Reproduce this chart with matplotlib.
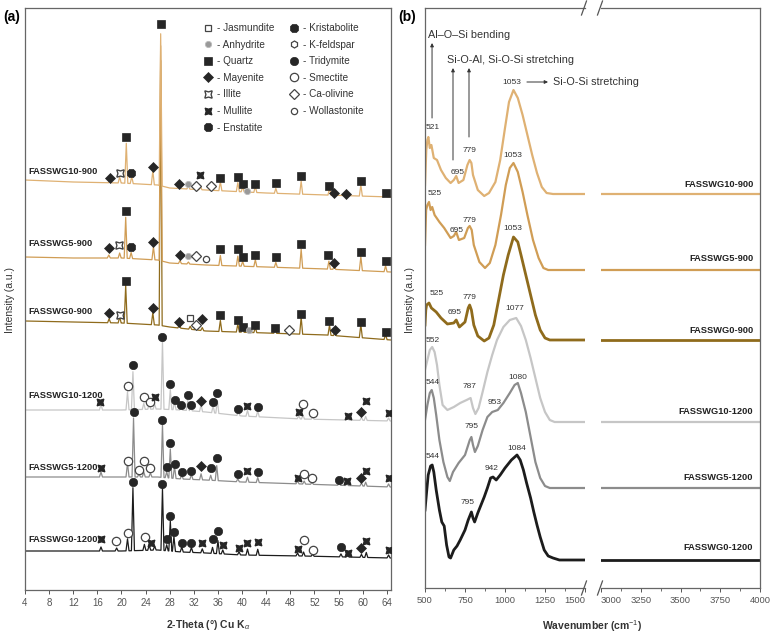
import numpy as np
import matplotlib.pyplot as plt
from matplotlib.lines import Line2D

plt.rcParams['font.family'] = ['Liberation Sans', 'DejaVu Sans']
plt.rcParams['mathtext.fontset'] = 'custom'
plt.rcParams['mathtext.rm'] = 'Liberation Sans'
plt.rcParams['mathtext.it'] = 'Liberation Sans:italic'
plt.rcParams['mathtext.bf'] = 'Liberation Sans:bold'

W, H = 774, 637

# ---------------- XRD data (a) ----------------
# background points (2theta, a.u.) and peaks (2theta, height above background)
bg_x = [4, 12, 20, 26, 28, 34, 44, 54, 64.7]
g10_900_bg = [410, 408, 407, 405, 402, 400, 397, 395, 393]
g5_900_bg = [333, 332, 332, 330, 327, 325, 323, 321, 318]
g0_900_bg = [269, 268, 267, 265, 263, 259, 257, 255, 250]

bg_x_1200 = [4, 15, 20, 26, 30, 34, 40, 50, 64.7]
g10_1200_bg = [180, 180, 180, 181, 180, 178, 174, 171, 169]
g5_1200_bg = [113, 113, 113, 113, 111, 110, 108, 106, 103]
g0_1200_bg = [39, 39, 39, 40, 38, 37, 35, 34, 32]

g10_900_pk_x = [18.1, 19.7, 20.8, 21.7, 25.2, 26.5, 29.5, 31.1, 33.1, 36.4, 39.3, 40.1, 40.8,
                42.2, 45.6, 49.8, 54.5, 55.3, 57.2, 59.7, 63.8]
g10_900_pk_h = [4, 6, 40, 7, 14, 152, 3, 3, 3, 9, 9, 5, 3, 6, 5, 13, 7, 3, 3, 11, 5]

g5_900_pk_x = [17.9, 19.7, 20.7, 21.6, 25.3, 26.5, 29.7, 31.1, 36.4, 39.3, 40.1, 42.2, 45.6,
               49.8, 54.4, 55.3, 59.7, 63.8]
g5_900_pk_h = [3, 5, 41, 6, 13, 215, 3, 2, 10, 10, 5, 7, 5, 19, 8, 3, 14, 6]

g0_900_pk_x = [17.95, 19.7, 20.7, 25.2, 26.5, 29.6, 31.4, 32.4, 33.4, 36.4, 39.3, 40.1, 41.2,
               42.2, 45.5, 47.8, 49.8, 54.5, 55.4, 59.7, 63.8]
g0_900_pk_h = [4, 6, 38, 12, 265, 3, 3, 3, 3, 11, 8, 4, 2, 5, 4, 2, 17, 10, 3, 13, 5]

g10_1200_pk_x = [16.6, 21.0, 21.9, 23.7, 24.6, 25.5, 26.8, 28.1, 28.8, 29.9, 31.0, 31.5, 33.2,
                 35.2, 35.9, 39.4, 40.9, 42.6, 49.4, 50.1, 51.7, 57.5, 59.8, 60.5, 64.3]
g10_1200_pk_h = [6, 18, 38, 6, 5, 5, 68, 20, 8, 4, 10, 4, 7, 7, 13, 4, 6, 6, 3, 4, 2, 2, 3, 4, 3]

g5_1200_pk_x = [16.6, 21.0, 22.0, 22.9, 23.7, 24.8, 26.8, 27.5, 28.1, 28.8, 30.0, 31.6, 33.2,
                34.8, 35.8, 39.3, 40.9, 42.6, 49.2, 50.3, 51.6, 56.1, 57.4, 59.8, 60.5, 64.3]
g5_1200_pk_h = [5, 14, 59, 3, 5, 4, 53, 6, 29, 12, 4, 5, 6, 5, 15, 3, 5, 5, 3, 3, 2, 2, 2, 3, 4, 3]

g0_1200_pk_x = [16.6, 19.2, 21.0, 21.9, 23.8, 24.6, 25.5, 26.8, 27.5, 28.1, 28.7, 30.0, 31.6,
                33.4, 35.1, 36.0, 36.8, 39.5, 40.9, 42.6, 49.2, 50.2, 51.7, 56.4, 57.5, 59.8,
                60.6, 64.3]
g0_1200_pk_h = [4, 3, 12, 63, 6, 5, 4, 62, 6, 30, 15, 5, 5, 4, 6, 13, 4, 3, 6, 6, 3, 4, 2, 3, 2,
                3, 5, 3]

# phase markers (phase, 2theta, a.u.)
g10_900_marks = [
    ('Mayenite', 18.1, 412), ('Illite', 19.7, 417), ('Quartz', 20.8, 453), ('Enstatite', 21.6, 417),
    ('Mayenite', 25.3, 423), ('Quartz', 26.5, 566), ('Mayenite', 29.5, 406), ('Anhydrite', 31.1, 406),
    ('Ca-olivine', 32.4, 404), ('Mullite', 33.1, 415), ('Ca-olivine', 34.9, 404), ('Quartz', 36.4, 412),
    ('Quartz', 39.3, 413), ('Quartz', 40.1, 406), ('Anhydrite', 40.8, 399), ('Quartz', 42.2, 406),
    ('Quartz', 45.6, 407), ('Quartz', 49.8, 414), ('Quartz', 54.5, 404), ('Mayenite', 55.3, 397),
    ('Mayenite', 57.2, 396), ('Quartz', 59.7, 409), ('Quartz', 63.8, 397)]
g5_900_marks = [
    ('Mayenite', 17.9, 342), ('Illite', 19.6, 345), ('Quartz', 20.7, 379), ('Enstatite', 21.6, 343),
    ('Mayenite', 25.3, 348), ('Mayenite', 29.7, 335), ('Anhydrite', 31.1, 334), ('Ca-olivine', 32.4, 334),
    ('Wollastonite', 34.1, 331), ('Quartz', 36.4, 341), ('Quartz', 39.3, 341), ('Quartz', 40.1, 333),
    ('Quartz', 42.2, 335), ('Quartz', 45.6, 333), ('Quartz', 49.8, 346), ('Quartz', 54.3, 335),
    ('Mayenite', 55.3, 327), ('Quartz', 59.7, 338), ('Quartz', 63.8, 329)]
g0_900_marks = [
    ('Mayenite', 17.95, 277), ('Illite', 19.7, 275), ('Quartz', 20.7, 309), ('Mayenite', 25.2, 282),
    ('Mayenite', 29.6, 268), ('Jasmundite', 31.4, 272), ('Ca-olivine', 32.4, 265), ('Mayenite', 33.4, 271),
    ('Quartz', 36.4, 275), ('Quartz', 39.3, 270), ('Quartz', 40.1, 263), ('Anhydrite', 41.2, 260),
    ('Quartz', 42.2, 265), ('Quartz', 45.5, 262), ('Ca-olivine', 47.8, 260), ('Quartz', 49.8, 276),
    ('Quartz', 54.5, 269), ('Mayenite', 55.4, 260), ('Quartz', 59.7, 268), ('Quartz', 63.8, 258)]
g10_1200_marks = [
    ('Mullite', 16.4, 188), ('Smectite', 21.0, 204), ('Tridymite', 21.9, 225), ('Smectite', 23.7, 193),
    ('Smectite', 24.7, 188), ('Mullite', 25.5, 193), ('Tridymite', 26.8, 253), ('Tridymite', 28.1, 206),
    ('Tridymite', 28.8, 190), ('Tridymite', 29.9, 185), ('Tridymite', 31.0, 195), ('Tridymite', 31.5, 185),
    ('Mayenite', 33.2, 189), ('Tridymite', 35.2, 188), ('Tridymite', 35.9, 197), ('Tridymite', 39.4, 181),
    ('Mullite', 40.9, 184), ('Tridymite', 42.6, 183), ('Mullite', 49.4, 178), ('Smectite', 50.1, 186),
    ('Smectite', 51.7, 177), ('Mullite', 57.5, 174), ('Mayenite', 59.8, 178), ('Mullite', 60.5, 189),
    ('Mullite', 64.3, 177)]
g5_1200_marks = [
    ('Mullite', 16.6, 122), ('Smectite', 21.0, 129), ('Tridymite', 22.0, 178), ('Smectite', 22.9, 120),
    ('Smectite', 23.7, 129), ('Smectite', 24.8, 122), ('Tridymite', 26.8, 170), ('Tridymite', 27.5, 123),
    ('Tridymite', 28.1, 147), ('Tridymite', 28.8, 126), ('Tridymite', 30.0, 118), ('Tridymite', 31.6, 119),
    ('Mayenite', 33.2, 124), ('Tridymite', 34.8, 122), ('Tridymite', 35.8, 132), ('Tridymite', 39.3, 116),
    ('Mullite', 40.9, 119), ('Tridymite', 42.6, 118), ('Mullite', 49.2, 112), ('Smectite', 50.3, 116),
    ('Smectite', 51.6, 112), ('Tridymite', 56.1, 110), ('Mullite', 57.4, 109), ('Mayenite', 59.8, 112),
    ('Mullite', 60.5, 119), ('Mullite', 64.3, 112)]
g0_1200_marks = [
    ('Mullite', 16.6, 51), ('Smectite', 19.1, 49), ('Smectite', 21.0, 57), ('Tridymite', 21.9, 108),
    ('Smectite', 23.9, 53), ('Mullite', 24.9, 47), ('Tridymite', 26.8, 106), ('Tridymite', 27.5, 51),
    ('Tridymite', 28.1, 74), ('Tridymite', 28.7, 58), ('Tridymite', 30.0, 47), ('Tridymite', 31.6, 47),
    ('Mullite', 33.4, 47), ('Tridymite', 35.1, 51), ('Tridymite', 36.0, 59), ('Mullite', 36.8, 45),
    ('Mullite', 39.5, 42), ('Mullite', 40.9, 47), ('Mullite', 42.6, 48), ('Mullite', 49.2, 41),
    ('Smectite', 50.2, 50), ('Smectite', 51.7, 40), ('Tridymite', 56.4, 43), ('Mullite', 57.5, 37),
    ('Mayenite', 59.8, 42), ('Mullite', 60.6, 49), ('Mullite', 64.3, 40)]

# ---------------- FTIR data (b) ----------------
g10_900_wn = [500, 508, 515, 521, 530, 540, 555, 575, 600, 630, 660, 680, 695, 710, 740, 765, 779,
              790, 800, 830, 870, 900, 940, 970, 1000, 1025, 1053, 1080, 1110, 1140, 1170, 1200,
              1230, 1260, 1300, 1500]
g10_900_ir = [403, 438, 448, 451, 440, 443, 430, 428, 418, 410, 405, 408, 412, 405, 408, 423, 428,
              425, 413, 398, 392, 395, 406, 428, 460, 486, 498, 490, 473, 453, 433, 415, 401, 395,
              394, 394]
g5_900_wn = [500, 507, 515, 525, 535, 545, 560, 590, 620, 660, 680, 695, 712, 745, 768, 779, 792,
             805, 840, 875, 905, 940, 975, 1005, 1030, 1053, 1080, 1110, 1140, 1175, 1210, 1240,
             1270, 1500]
g5_900_ir = [343, 378, 383, 386, 378, 381, 373, 366, 360, 350, 352, 356, 348, 350, 360, 362, 358,
             343, 326, 320, 325, 343, 373, 403, 420, 425, 416, 396, 373, 348, 330, 320, 318, 318]
g0_900_wn = [500, 505, 510, 525, 540, 570, 600, 640, 680, 695, 715, 750, 770, 779, 790, 805, 830,
             870, 900, 930, 960, 990, 1020, 1053, 1080, 1100, 1130, 1160, 1190, 1220, 1250, 1280,
             1500]
g0_900_ir = [263, 278, 283, 285, 280, 276, 270, 264, 265, 268, 261, 266, 280, 283, 278, 263, 252,
             247, 250, 263, 288, 313, 333, 351, 346, 333, 313, 293, 273, 258, 250, 248, 248]
g10_1200_wn = [500, 515, 530, 545, 560, 575, 590, 610, 640, 680, 720, 760, 785, 800, 815, 835, 860,
               890, 920, 950, 990, 1030, 1070, 1100, 1130, 1160, 1190, 1220, 1250, 1280, 1310, 1500]
g10_1200_ir = [218, 228, 238, 241, 236, 223, 203, 183, 178, 181, 185, 188, 190, 180, 174, 180, 196,
               216, 233, 248, 261, 268, 270, 262, 248, 230, 210, 190, 176, 168, 166, 166]
g5_1200_wn = [500, 515, 530, 542, 555, 570, 590, 615, 640, 655, 675, 710, 750, 780, 790, 800, 812,
              830, 860, 890, 920, 955, 990, 1030, 1060, 1080, 1100, 1130, 1160, 1190, 1220, 1250,
              1280, 1500]
g5_1200_ir = [168, 183, 195, 198, 190, 173, 148, 126, 111, 107, 116, 125, 133, 148, 151, 143, 136,
              142, 158, 171, 176, 178, 185, 195, 203, 205, 195, 176, 151, 126, 110, 102, 100, 100]
g0_1200_wn = [500, 510, 520, 535, 545, 555, 570, 590, 605, 620, 635, 650, 660, 680, 700, 720, 750,
              770, 790, 800, 810, 830, 850, 870, 890, 910, 925, 945, 970, 1000, 1040, 1075, 1095,
              1115, 1135, 1160, 1180, 1200, 1220, 1245, 1270, 1300, 1340, 1500]
g0_1200_ir = [78, 96, 113, 122, 123, 116, 98, 78, 66, 62, 43, 31, 30, 38, 42, 48, 58, 68, 76, 70,
              66, 75, 83, 91, 100, 110, 111, 108, 113, 120, 128, 133, 128, 118, 105, 90, 76, 63, 51,
              38, 32, 30, 28, 28]

samples = ['FASSWG10-900', 'FASSWG5-900', 'FASSWG0-900', 'FASSWG10-1200', 'FASSWG5-1200', 'FASSWG0-1200']
colors = ['#DFB173', '#D09D55', '#8F6B1C', '#C6C6C6', '#8C8C8C', '#1C1C1C']

phase_order = ['Jasmundite', 'Anhydrite', 'Quartz', 'Mayenite', 'Illite', 'Mullite', 'Enstatite',
               'Kristabolite', 'K-feldspar', 'Tridymite', 'Smectite', 'Ca-olivine', 'Wollastonite']
K = '#262626'
phase_style = {
    'Jasmundite': dict(marker='s', ms=5, mfc='white', mec='#444', mew=0.9),
    'Anhydrite': dict(marker='o', ms=4.5, mfc='#999999', mec='#BBBBBB', mew=0.6),
    'Quartz': dict(marker='s', ms=5.5, mfc=K, mec=K, mew=0.5),
    'Mayenite': dict(marker='D', ms=4.8, mfc=K, mec=K, mew=0.5),
    'Illite': dict(marker=(4, 1, 45), ms=7.5, mfc='white', mec='#444', mew=1.0),
    'Mullite': dict(marker=(4, 1, 45), ms=7, mfc=K, mec=K, mew=0.8),
    'Enstatite': dict(marker='8', ms=6, mfc=K, mec=K, mew=0.5),
    'Kristabolite': dict(marker='8', ms=6, mfc=K, mec=K, mew=0.5),
    'K-feldspar': dict(marker='h', ms=5, mfc='white', mec='#444', mew=0.9),
    'Tridymite': dict(marker='o', ms=6, mfc=K, mec=K, mew=0.5),
    'Smectite': dict(marker='o', ms=6, mfc='white', mec='#444', mew=0.9),
    'Ca-olivine': dict(marker='D', ms=5, mfc='white', mec='#444', mew=0.9),
    'Wollastonite': dict(marker='o', ms=4.5, mfc='white', mec='#444', mew=0.9),
}


def xrd_curve(bx, by, px, ph, w=0.25):
    xs = [b for b in bx if not any(p - w < b < p + w for p in px)]
    for p in px:
        xs += [p - w, p, p + w]
    xs = np.array(sorted(set(xs)))
    ys = np.interp(xs, bx, by)
    for p, h in zip(px, ph):
        ys[np.isclose(xs, p)] += h
    return xs, ys


def fx(px):
    return px / W


def fy(py):
    return 1 - py / H


fig = plt.figure(figsize=(W / 100, H / 100), dpi=100)

# ---------------- panel (a) ----------------
ax = fig.add_axes([fx(25), fy(590), fx(366), 582 / H])
xrd = [
    (bg_x, g10_900_bg, g10_900_pk_x, g10_900_pk_h, g10_900_marks),
    (bg_x, g5_900_bg, g5_900_pk_x, g5_900_pk_h, g5_900_marks),
    (bg_x, g0_900_bg, g0_900_pk_x, g0_900_pk_h, g0_900_marks),
    (bg_x_1200, g10_1200_bg, g10_1200_pk_x, g10_1200_pk_h, g10_1200_marks),
    (bg_x_1200, g5_1200_bg, g5_1200_pk_x, g5_1200_pk_h, g5_1200_marks),
    (bg_x_1200, g0_1200_bg, g0_1200_pk_x, g0_1200_pk_h, g0_1200_marks),
]
for i in [5, 4, 3, 2, 1, 0]:
    bx, by, px, ph, marks = xrd[i]
    xs, ys = xrd_curve(bx, by, px, ph)
    ax.plot(xs, ys, color=colors[i], lw=0.9, zorder=2)
    for name, mx, my in marks:
        ax.plot([mx], [my], ls='none', zorder=4, **phase_style[name])

xrd_label_y = [418, 347, 278, 195, 122, 51]
for i, s in enumerate(samples):
    ax.text(4.6, xrd_label_y[i], s, fontsize=6.7, fontweight='bold', color='#222',
            ha='left', va='center', zorder=5)

ax.set_xlim(4, 64.7)
ax.set_ylim(0, 582)
ax.set_xticks(range(4, 65, 4))
ax.set_yticks([])
ax.tick_params(axis='x', length=3, width=0.7, colors='#555', labelsize=7, pad=3)
for sp in ax.spines.values():
    sp.set_color('#666')
    sp.set_linewidth(0.9)

handles = [Line2D([], [], ls='none', **phase_style[p]) for p in phase_order]
leg = ax.legend(handles, ['- ' + p for p in phase_order], ncol=2, frameon=False,
                loc='upper left', bbox_to_anchor=(fx(204), fy(23)), bbox_transform=fig.transFigure,
                fontsize=7.2, handlelength=0.8, handletextpad=0.5, columnspacing=1.6,
                labelspacing=0.66, borderpad=0, borderaxespad=0)
for t in leg.get_texts():
    t.set_color('#333')

fig.text(fx(208), fy(625), r'2-Theta (°) Cu K$_\alpha$', fontsize=7.5, fontweight='bold',
         color='#333', ha='center', va='center')
fig.text(fx(10), fy(300), 'Intensity (a.u.)', fontsize=7.5, color='#333', rotation=90,
         ha='center', va='center')
fig.text(fx(12), fy(17), '(a)', fontsize=10, fontweight='bold', ha='center', va='center')

# ---------------- panel (b) ----------------
axL = fig.add_axes([fx(425), fy(588), fx(160), 580 / H])
axR = fig.add_axes([fx(601), fy(588), fx(159), 580 / H])
axR.patch.set_visible(False)
ftir = [(g10_900_wn, g10_900_ir), (g5_900_wn, g5_900_ir), (g0_900_wn, g0_900_ir),
        (g10_1200_wn, g10_1200_ir), (g5_1200_wn, g5_1200_ir), (g0_1200_wn, g0_1200_ir)]
ftir_lw = [1.6, 1.6, 2.0, 1.6, 1.6, 2.0]
for i, (wn, ir) in enumerate(ftir):
    axL.plot(wn, ir, color=colors[i], lw=ftir_lw[i], solid_joinstyle='round')
    axR.plot([3000, 4000], [ir[-1], ir[-1]], color=colors[i], lw=ftir_lw[i])

ftir_label_y = [404, 330, 258, 176, 110, 40]
for i, s in enumerate(samples):
    axR.text(3958, ftir_label_y[i], s, fontsize=6.7, fontweight='bold', color='#222',
             ha='right', va='center')

peak_labels = [
    ('521', 550, 461), ('695', 706, 416), ('779', 781, 438),
    ('525', 562, 395), ('695', 700, 358), ('779', 781, 368), ('1053', 1050, 433),
    ('1053', 1050, 360), ('525', 575, 295), ('695', 688, 276), ('779', 781, 291),
    ('552', 550, 248), ('787', 781, 201), ('1077', 1062, 280),
    ('544', 550, 205), ('795', 794, 161), ('953', 937, 186), ('1080', 1081, 211),
    ('544', 550, 131), ('942', 919, 120), ('1084', 1075, 140), ('795', 769, 86),
]
for t, x, y in peak_labels:
    axL.text(x, y, t, fontsize=6, color='#333', ha='center', va='center')

arr = dict(arrowstyle='-|>', lw=0.7, color='#333', mutation_scale=5, shrinkA=0, shrinkB=0)
axL.annotate('', xy=(544, 545), xytext=(544, 470), arrowprops=arr)
axL.annotate('', xy=(675, 520), xytext=(675, 428), arrowprops=arr)
axL.annotate('', xy=(775, 520), xytext=(775, 451), arrowprops=arr)
axL.annotate('', xy=(1269, 506), xytext=(1137, 506), arrowprops=arr)
axL.text(519, 553, 'Al–O–Si bending', fontsize=7.8, color='#333', ha='left', va='center')
axL.text(637, 528, 'Si-O-Al, Si-O-Si stretching', fontsize=7.8, color='#333', ha='left', va='center')
axL.text(1044, 506, '1053', fontsize=6, color='#333', ha='center', va='center')
axL.text(1300, 506, 'Si-O-Si stretching', fontsize=7.8, color='#333', ha='left', va='center',
         zorder=10)

axL.set_xlim(500, 1500)
axR.set_xlim(3000, 4000)
for a in (axL, axR):
    a.set_ylim(0, 580)
    a.set_yticks([])
    a.tick_params(axis='x', length=3, width=0.7, colors='#555', labelsize=6.8, pad=3)
    a.tick_params(axis='x', which='minor', length=2, width=0.6, colors='#555')
    for sp in a.spines.values():
        sp.set_color('#666')
        sp.set_linewidth(0.9)
axL.set_xticks([500, 750, 1000, 1250, 1500])
axL.set_xticks([625, 875, 1125, 1375], minor=True)
axR.set_xticks([3000, 3250, 3500, 3750, 4000])
axR.set_xticks([3125, 3375, 3625, 3875], minor=True)
axL.get_xticklabels()[-1].set_ha('right')
axR.get_xticklabels()[0].set_ha('left')
axL.spines['right'].set_visible(False)
axR.spines['left'].set_visible(False)

# axis break marks
for bx_ in (584, 600):
    for by_ in (8, 588):
        fig.add_artist(Line2D([fx(bx_ - 2.5), fx(bx_ + 2.5)], [fy(by_ + 7), fy(by_ - 7)],
                              transform=fig.transFigure, color='#555', lw=0.9))

fig.text(fx(592), fy(626), r'Wavenumber (cm$^{-1}$)', fontsize=7.5, fontweight='bold',
         color='#333', ha='center', va='center')
fig.text(fx(410), fy(300), 'Intensity (a.u.)', fontsize=7.5, color='#333', rotation=90,
         ha='center', va='center')
fig.text(fx(407), fy(17), '(b)', fontsize=10, fontweight='bold', ha='center', va='center')

fig.savefig('out.png', dpi=100)
